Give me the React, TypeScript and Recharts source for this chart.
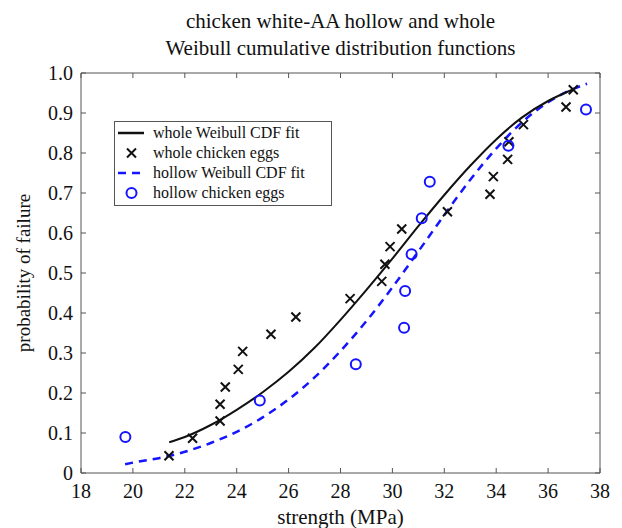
import { ComposedChart, Legend, Line, Scatter, XAxis, YAxis } from "recharts";

// strength (MPa) and probability of failure
const wholeStrength = [21.39, 22.3, 23.36, 23.36, 23.56, 24.06, 24.23, 25.32, 26.28, 28.37, 29.59, 29.71, 29.91, 30.36, 32.12, 33.76, 33.89, 34.44, 34.49, 35.05, 36.69, 36.97];
const wholeProb = [0.043, 0.087, 0.13, 0.172, 0.215, 0.259, 0.304, 0.347, 0.39, 0.436, 0.479, 0.522, 0.566, 0.61, 0.653, 0.697, 0.741, 0.784, 0.828, 0.871, 0.915, 0.958];

const hollowStrength = [19.71, 24.89, 28.59, 30.45, 30.49, 30.74, 31.13, 31.44, 34.47, 37.46];
const hollowProb = [0.09, 0.181, 0.272, 0.363, 0.455, 0.547, 0.637, 0.728, 0.818, 0.909];

// fitted Weibull CDF curves, sampled along the drawn lines
const wholeFitX = [21.4, 22, 23, 24, 25, 26, 27, 28, 29, 30, 31, 32, 33, 34, 35, 36, 37];
const wholeFitY = [0.077, 0.09, 0.12, 0.158, 0.202, 0.253, 0.313, 0.383, 0.458, 0.536, 0.617, 0.695, 0.768, 0.834, 0.889, 0.93, 0.96];

const hollowFitX = [19.7, 20, 21, 22, 23, 24, 25, 26, 27, 28, 29, 30, 31, 32, 33, 34, 35, 36, 37, 37.5];
const hollowFitY = [0.022, 0.026, 0.037, 0.053, 0.075, 0.103, 0.139, 0.184, 0.239, 0.305, 0.38, 0.464, 0.554, 0.645, 0.733, 0.811, 0.877, 0.927, 0.961, 0.973];

const xTicks = [18, 20, 22, 24, 26, 28, 30, 32, 34, 36, 38];
const yTicks = [0, 0.1, 0.2, 0.3, 0.4, 0.5, 0.6, 0.7, 0.8, 0.9, 1.0];

const titleLines = ["chicken white-AA hollow and whole", "Weibull cumulative distribution functions"];

const serif = "'Liberation Serif', 'DejaVu Serif', serif";
const frame = "#555";
const blue = "#1414ff";

const toPoints = (xs: number[], ys: number[]) => xs.map((x, i) => ({ x, y: ys[i] }));

const wholeEggs = toPoints(wholeStrength, wholeProb);
const hollowEggs = toPoints(hollowStrength, hollowProb);
const wholeFit = toPoints(wholeFitX, wholeFitY);
const hollowFit = toPoints(hollowFitX, hollowFitY);

const Cross = ({ cx, cy }: any) => (
  <path
    d={`M${cx - 4.5},${cy - 4.5}L${cx + 4.5},${cy + 4.5}M${cx - 4.5},${cy + 4.5}L${cx + 4.5},${cy - 4.5}`}
    stroke="#111"
    strokeWidth={2}
    fill="none"
  />
);

const Ring = ({ cx, cy }: any) => (
  <circle cx={cx} cy={cy} r={5} fill="none" stroke={blue} strokeWidth={2} />
);

const bottomTick = ({ x, y, payload }: any) => (
  <g>
    <line x1={x} y1={y} x2={x} y2={y - 5} stroke={frame} />
    <text x={x} y={y + 25} textAnchor="middle" fill="#111" style={{ fontFamily: serif, fontSize: 20 }}>
      {payload.value}
    </text>
  </g>
);

const leftTick = ({ x, y, payload }: any) => (
  <g>
    <line x1={x} y1={y} x2={x + 5} y2={y} stroke={frame} />
    <text x={x - 8} y={y} dy="0.34em" textAnchor="end" fill="#111" style={{ fontFamily: serif, fontSize: 20 }}>
      {payload.value === 0 ? "0" : payload.value.toFixed(1)}
    </text>
  </g>
);

const topTick = ({ x, y }: any) => <line x1={x} y1={y} x2={x} y2={y + 5} stroke={frame} />;
const rightTick = ({ x, y }: any) => <line x1={x} y1={y} x2={x - 5} y2={y} stroke={frame} />;

const legendItems = [
  { label: "whole Weibull CDF fit", kind: "solid" },
  { label: "whole chicken eggs", kind: "cross" },
  { label: "hollow Weibull CDF fit", kind: "dashed" },
  { label: "hollow chicken eggs", kind: "ring" },
];

const renderLegend = () => (
  <div
    style={{
      border: `1px solid ${frame}`,
      background: "#fff",
      padding: "1px 0 2px",
      fontFamily: serif,
      fontSize: 16,
      color: "#111",
    }}
  >
    {legendItems.map((item) => (
      <div key={item.label} style={{ display: "flex", alignItems: "center", height: 20 }}>
        <svg width={38} height={20} style={{ flex: "none" }}>
          {item.kind === "solid" && <line x1={3} y1={10} x2={29} y2={10} stroke="#111" strokeWidth={2.5} />}
          {item.kind === "cross" && <Cross cx={16.5} cy={10} />}
          {item.kind === "dashed" && (
            <line x1={3} y1={10} x2={29} y2={10} stroke={blue} strokeWidth={2.5} strokeDasharray="8 6" />
          )}
          {item.kind === "ring" && <Ring cx={16.5} cy={10} />}
        </svg>
        <span style={{ whiteSpace: "nowrap" }}>{item.label}</span>
      </div>
    ))}
  </div>
);

export default function App() {
  return (
    <div style={{ position: "relative", width: 606, height: 520, fontFamily: serif }}>
      <ComposedChart
        width={606}
        height={520}
        margin={{ top: 64, right: 13, bottom: 5, left: 0 }}
        style={{ fontFamily: serif }}
      >
        <XAxis
          dataKey="x"
          type="number"
          domain={[18, 38]}
          ticks={xTicks}
          interval={0}
          height={50}
          tickSize={0}
          tickMargin={0}
          tickLine={false}
          axisLine={{ stroke: frame }}
          tick={bottomTick}
          allowDataOverflow
          label={{
            value: "strength (MPa)",
            position: "insideBottom",
            offset: -1,
            fontFamily: serif,
            fontSize: 21,
            fill: "#111",
            style: { fontFamily: serif, fontSize: 21, fill: "#111" },
          }}
        />
        <XAxis
          xAxisId="top"
          orientation="top"
          dataKey="x"
          type="number"
          domain={[18, 38]}
          ticks={xTicks}
          interval={0}
          height={1}
          tickSize={0}
          tickMargin={0}
          tickLine={false}
          axisLine={{ stroke: frame }}
          tick={topTick}
          allowDataOverflow
        />
        <YAxis
          dataKey="y"
          type="number"
          domain={[0, 1]}
          ticks={yTicks}
          interval={0}
          width={73}
          tickSize={0}
          tickMargin={0}
          tickLine={false}
          axisLine={{ stroke: frame }}
          tick={leftTick}
          allowDataOverflow
          label={{
            value: "probability of failure",
            angle: -90,
            position: "insideLeft",
            offset: 15,
            fontFamily: serif,
            fontSize: 19,
            fill: "#111",
            style: { textAnchor: "middle", fontFamily: serif, fontSize: 19, fill: "#111" },
          }}
        />
        <YAxis
          yAxisId="right"
          orientation="right"
          dataKey="y"
          type="number"
          domain={[0, 1]}
          ticks={yTicks}
          interval={0}
          width={1}
          tickSize={0}
          tickMargin={0}
          tickLine={false}
          axisLine={{ stroke: frame }}
          tick={rightTick}
          allowDataOverflow
        />
        <Legend
          layout="vertical"
          align="center"
          verticalAlign="middle"
          content={renderLegend}
          wrapperStyle={{ left: 106, top: 113, width: 218, height: "auto" }}
        />
        <Line
          data={hollowFit}
          dataKey="y"
          type="monotone"
          stroke={blue}
          strokeWidth={2.5}
          strokeDasharray="8 6"
          dot={false}
          isAnimationActive={false}
        />
        <Line
          data={wholeFit}
          dataKey="y"
          type="monotone"
          stroke="#111"
          strokeWidth={2}
          dot={false}
          isAnimationActive={false}
        />
        <Scatter data={wholeEggs} dataKey="y" shape={Cross} isAnimationActive={false} />
        <Scatter data={hollowEggs} dataKey="y" shape={Ring} isAnimationActive={false} />
      </ComposedChart>
      <div
        style={{
          position: "absolute",
          left: 73,
          top: 0,
          width: 519,
          textAlign: "center",
          fontSize: 21,
          lineHeight: "27px",
          color: "#111",
        }}
      >
        {titleLines.map((line) => (
          <div key={line}>{line}</div>
        ))}
      </div>
    </div>
  );
}
